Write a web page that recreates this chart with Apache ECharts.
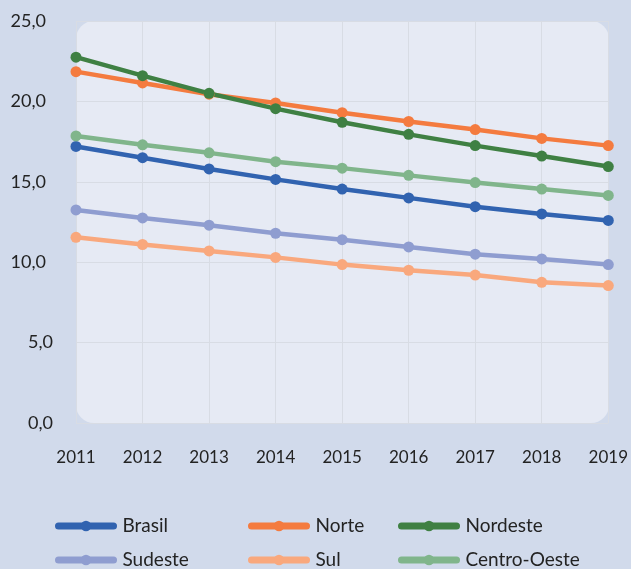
<!DOCTYPE html>
<html>
<head>
<meta charset="utf-8">
<script src="https://cdn.jsdelivr.net/npm/echarts@6/dist/echarts.min.js"></script>
<style>
  html, body { margin: 0; padding: 0; background: #d1daeb; }
  #chart { width: 631px; height: 569px; }
</style>
</head>
<body>
<div id="chart"></div>
<script>
const years = ['2011', '2012', '2013', '2014', '2015', '2016', '2017', '2018', '2019'];
const brasil = [17.2, 16.5, 15.8, 15.15, 14.55, 14.0, 13.45, 13.0, 12.6];
const norte = [21.85, 21.15, 20.45, 19.9, 19.3, 18.75, 18.25, 17.7, 17.25];
const nordeste = [22.75, 21.6, 20.5, 19.55, 18.7, 17.95, 17.25, 16.6, 15.95];
const sudeste = [13.25, 12.75, 12.3, 11.8, 11.4, 10.95, 10.5, 10.2, 9.85];
const sul = [11.55, 11.1, 10.7, 10.3, 9.85, 9.5, 9.2, 8.75, 8.55];
const centroOeste = [17.85, 17.3, 16.8, 16.25, 15.85, 15.4, 14.95, 14.55, 14.15];

const font = 'Lato';
const textColor = '#232323';

// grid layout
const gLeft = 76, gRight = 22, gTop = 21, gBottom = 146;

function line(name, data, color) {
  return {
    name: name,
    type: 'line',
    data: data,
    symbol: 'circle',
    symbolSize: 11,
    itemStyle: { color: color },
    lineStyle: { color: color, width: 4.5 },
    emphasis: { disabled: true },
    animation: false
  };
}

function legendCol(left, names) {
  return {
    orient: 'vertical',
    left: left,
    top: 515,
    height: 80,
    padding: 0,
    itemWidth: 55,
    itemHeight: 13,
    itemGap: 12,
    lineStyle: { width: 7, cap: 'round' },
    itemStyle: { borderWidth: 0 },
    data: names,
    textStyle: { fontFamily: font, fontSize: 19, lineHeight: 22, color: textColor, padding: [0, 0, 0, 4] }
  };
}

const myChart = echarts.init(document.getElementById('chart'));
const option = {
  backgroundColor: '#d1daeb',
  graphic: [{
    type: 'rect',
    z: -10,
    silent: true,
    shape: { x: gLeft, y: gTop, width: 631 - gLeft - gRight, height: 569 - gTop - gBottom, r: 18 },
    style: { fill: '#e6eaf4' }
  }],
  grid: { left: gLeft, right: gRight, top: gTop, bottom: gBottom, containLabel: false },
  xAxis: {
    type: 'category',
    boundaryGap: false,
    data: years,
    axisLine: { show: false },
    axisTick: { show: false },
    splitLine: { show: true, lineStyle: { color: '#d8dce4', width: 1 } },
    axisLabel: { margin: 26, fontFamily: font, fontSize: 17, color: textColor }
  },
  yAxis: {
    type: 'value',
    min: 0,
    max: 25,
    interval: 5,
    axisLine: { show: false },
    axisTick: { show: false },
    splitLine: { show: true, lineStyle: { color: '#d8dce4', width: 1 } },
    axisLabel: {
      margin: 23,
      fontFamily: font,
      fontSize: 18,
      color: textColor,
      formatter: v => {
        const s = v.toFixed(1).replace('.', ',');
        return v >= 10 ? '{w|' + s + '}' : s;
      },
      rich: {
        w: { fontFamily: font, fontSize: 18, color: textColor, padding: [0, 7, 0, 0] }
      }
    }
  },
  legend: [
    legendCol(55, ['Brasil', 'Sudeste']),
    legendCol(248, ['Norte', 'Sul']),
    legendCol(398, ['Nordeste', 'Centro-Oeste'])
  ],
  series: [
    line('Brasil', brasil, '#3163b0'),
    line('Norte', norte, '#f47b3f'),
    line('Nordeste', nordeste, '#3f8043'),
    line('Sudeste', sudeste, '#8f9dd0'),
    line('Sul', sul, '#f9a87d'),
    line('Centro-Oeste', centroOeste, '#80b58b')
  ]
};
myChart.setOption(option);
window.onresize = function () {
  myChart.resize()
}
</script>
</body>
</html>
